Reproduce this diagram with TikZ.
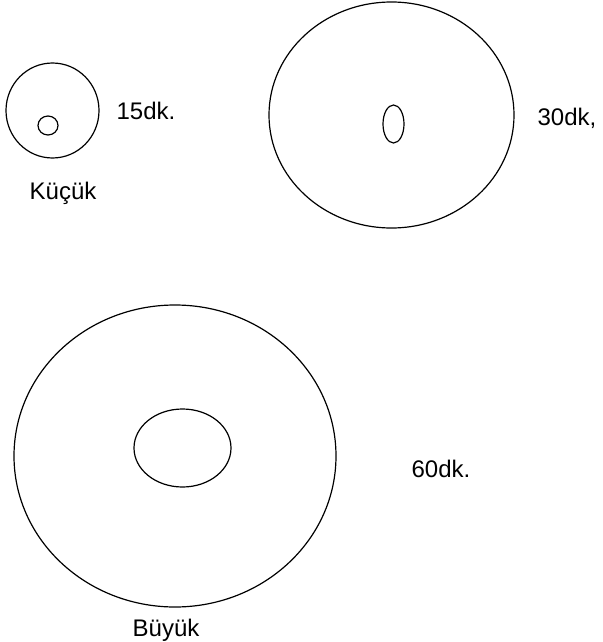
\documentclass[tikz,border=0pt]{standalone}
\usepackage{fontspec}
\setmainfont{Liberation Sans}

\begin{document}
\begin{tikzpicture}[x=1pt,y=-1pt,line width=1.2pt,
    lbl/.style={font=\fontsize{24}{28}\selectfont,inner sep=0pt,anchor=base}]
    \useasboundingbox (0,0) rectangle (602,642);

    % small
    \draw (52.5,110.5) ellipse (46.5pt and 47.5pt);
    \draw (48,125.5)   ellipse (10pt and 9.5pt);
    \node[lbl] (t15)    at (146,119.5) {15dk.};
    \node[lbl] (kucuk)  at (63,199)    {Küçük};

    % medium
    \draw (391.5,115) ellipse (122.5pt and 113pt);
    \draw (393.5,124) ellipse (10.5pt and 19pt);
    \node[lbl] (t30)    at (567,125)   {30dk,};

    % large
    \draw (175,456)   ellipse (161pt and 151pt);
    \draw (182.5,448) ellipse (48.5pt and 39pt);
    \node[lbl] (t60)    at (441,477)   {60dk.};
    \node[lbl] (buyuk)  at (166,636)   {Büyük};
\end{tikzpicture}
\end{document}
